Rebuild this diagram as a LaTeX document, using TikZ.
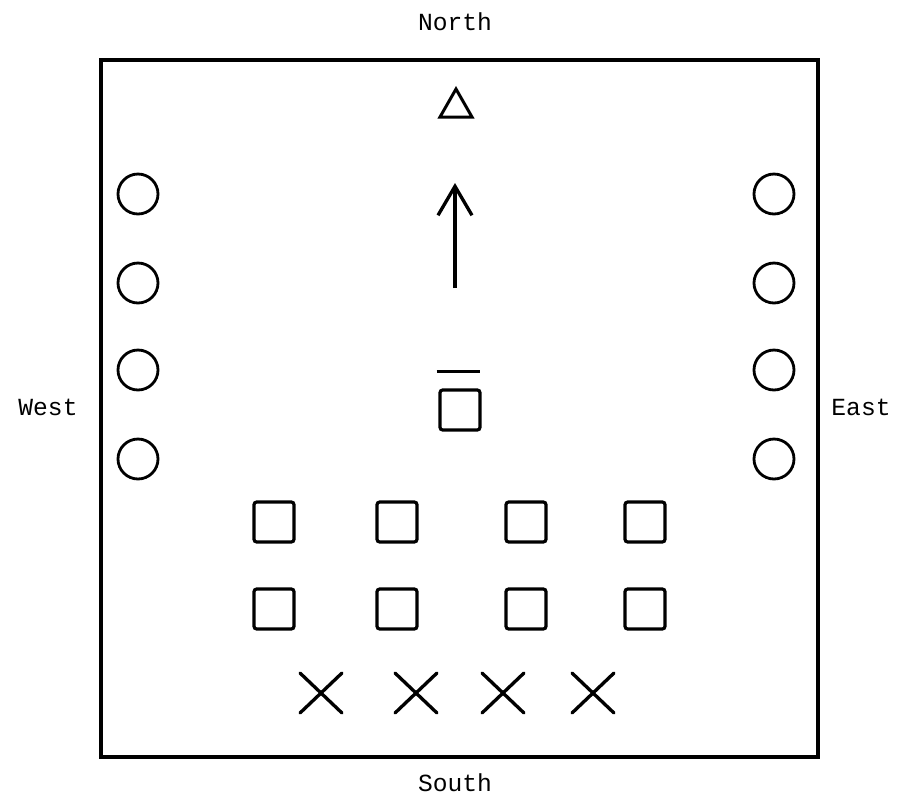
\documentclass[tikz,border=0pt]{standalone}
\usepackage{fontspec}
\setmainfont{Liberation Mono}
\usetikzlibrary{arrows.meta,positioning,shapes.geometric}
\tikzset{
  lbl/.style={font=\fontsize{14}{17}\selectfont,inner sep=0pt},
  sq/.style={draw,line width=1.8pt,minimum size=0.8cm,inner sep=0pt,rounded corners=1.5pt},
  circ/.style={draw,circle,line width=1.6pt,minimum size=0.8cm,inner sep=0pt},
  crs/.style={line width=1.9pt,line cap=round},
  tri/.style={line width=1.7pt,line join=miter}
}
\begin{document}
\begin{tikzpicture}[x=0.02cm,y=-0.02cm]
\useasboundingbox (0,0) rectangle (900,799);
% field
\draw[line width=1.8pt] (101,60) rectangle (818,757);
\node[lbl] (north) at (455,22) {North};
\node[lbl] (south) at (455,783) {South};
\node[lbl] (west) at (48,407) {West};
\node[lbl] (east) at (861,407) {East};
% target and direction
\coordinate (goal) at (456,104);
\draw[tri] ([shift={(0,-15)}]goal) -- ([shift={(16,13)}]goal) -- ([shift={(-16,13)}]goal) -- cycle;
\coordinate (arrS) at (455,288);
\coordinate (arrE) at (455,183);
\draw[line width=1.9pt,-{Straight Barb[length=5.8mm,width=6.8mm,line width=1.9pt]}] (arrS) -- (arrE);
\node[sq] (lead) at (460,410) {};
\draw[line width=2pt] ([xshift=-1pt,yshift=0.34cm]lead.north west) coordinate (barL) -- ([xshift=-1pt,yshift=0.34cm]lead.north east) coordinate (barR);
% side circles
\foreach \y [count=\i] in {194,283,370,459}{
  \node[circ] (w\i) at (138,\y) {};
  \node[circ] (e\i) at (774,\y) {};
}
% two rows of squares
\foreach \x [count=\i] in {274,397,526,645}{
  \node[sq] (ra\i) at (\x,522) {};
  \node[sq] (rb\i) at (\x,609) {};
}
% crosses
\foreach \x [count=\i] in {321,416,503,593}{
  \coordinate (x\i) at (\x,693);
  \draw[crs] ([shift={(-21,-20)}]x\i) -- ([shift={(21,20)}]x\i);
  \draw[crs] ([shift={(-21,20)}]x\i) -- ([shift={(21,-20)}]x\i);
}
\end{tikzpicture}
\end{document}
